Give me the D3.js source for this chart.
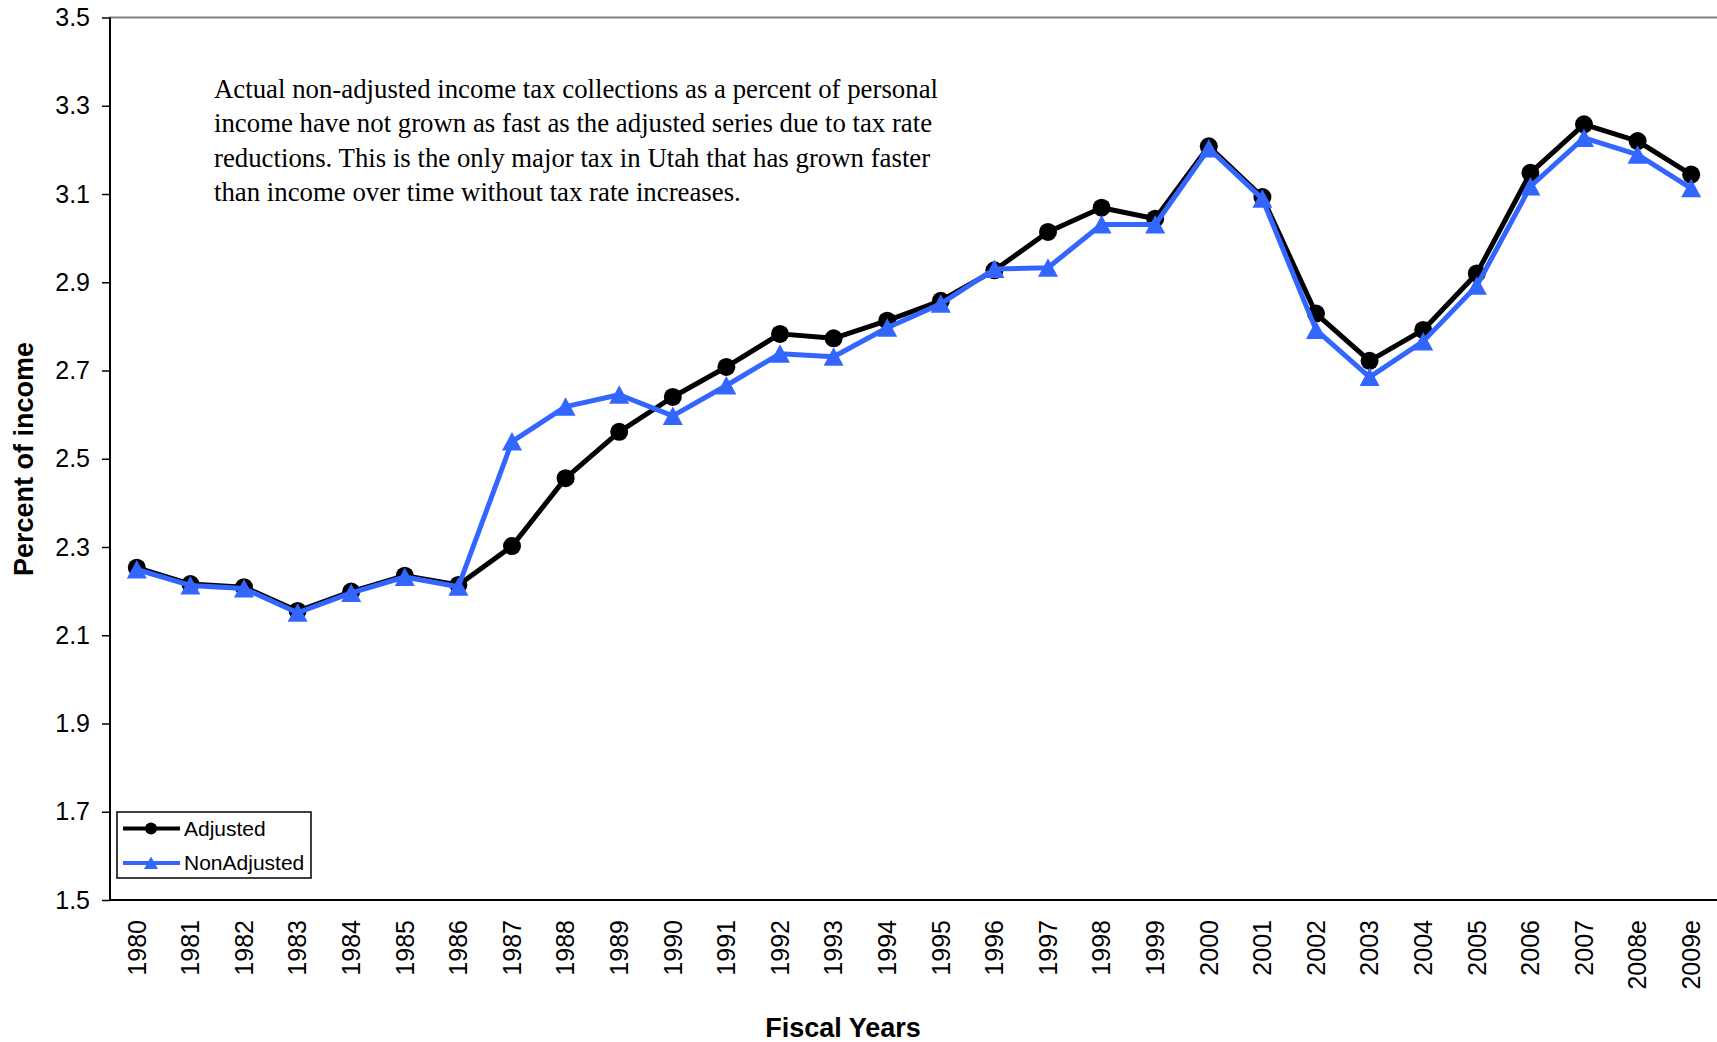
<!DOCTYPE html>
<html>
<head>
<meta charset="utf-8">
<script src="https://cdnjs.cloudflare.com/ajax/libs/d3/7.8.5/d3.min.js"></script>
<style>
body { margin: 0; background: #fff; }
svg { display: block; }
</style>
</head>
<body>
<div id="chart-area"></div>
<script>
// Income tax collections as a percent of personal income
var years = ["1980", "1981", "1982", "1983", "1984", "1985", "1986", "1987", "1988", "1989",
    "1990", "1991", "1992", "1993", "1994", "1995", "1996", "1997", "1998", "1999",
    "2000", "2001", "2002", "2003", "2004", "2005", "2006", "2007", "2008e", "2009e"];

var adjusted = [2.253, 2.216, 2.209, 2.155, 2.199, 2.235, 2.214, 2.302, 2.456, 2.561,
    2.640, 2.708, 2.783, 2.773, 2.813, 2.858, 2.927, 3.014, 3.069, 3.044,
    3.208, 3.093, 2.829, 2.722, 2.792, 2.920, 3.148, 3.258, 3.220, 3.144];

var nonAdjusted = [2.249, 2.213, 2.206, 2.151, 2.196, 2.232, 2.210, 2.539, 2.618, 2.645,
    2.597, 2.666, 2.738, 2.731, 2.797, 2.851, 2.930, 2.933, 3.031, 3.031,
    3.203, 3.089, 2.792, 2.685, 2.766, 2.892, 3.117, 3.227, 3.189, 3.113];

var yTicks = [1.5, 1.7, 1.9, 2.1, 2.3, 2.5, 2.7, 2.9, 3.1, 3.3, 3.5];

var seriesNames = ["Adjusted", "NonAdjusted"];

var noteLines = [
    "Actual non-adjusted income tax collections as a percent of personal",
    "income have not grown as fast as the adjusted series due to tax rate",
    "reductions. This is the only major tax in Utah that has grown faster",
    "than income over time without tax rate increases."
];

var W = 1717, H = 1042;
var plot = { left: 110, top: 17.5, right: 1718, bottom: 900 };
var sans = "'Liberation Sans', Arial, sans-serif";
var blue = "#3366ff";

var svg = d3.select("#chart-area")
    .append("svg")
        .attr("width", W)
        .attr("height", H);

var x = d3.scaleBand()
    .domain(years)
    .range([plot.left, plot.right]);

var y = d3.scaleLinear()
    .domain([1.5, 3.5])
    .range([plot.bottom, plot.top]);

// plot area border (grey)
svg.append("rect")
    .attr("x", plot.left)
    .attr("y", plot.top)
    .attr("width", plot.right - plot.left)
    .attr("height", plot.bottom - plot.top)
    .attr("fill", "none")
    .attr("stroke", "#808080")
    .attr("stroke-width", 2);

// Y-Axis
var yAxisCall = d3.axisLeft(y)
    .tickValues(yTicks)
    .tickFormat(d3.format(".1f"))
    .tickSize(8)
    .tickPadding(12);
var yAxis = svg.append("g")
    .attr("class", "y-axis")
    .attr("transform", "translate(" + plot.left + ",0)")
    .call(yAxisCall);
yAxis.select(".domain").remove();
yAxis.selectAll("line").attr("stroke", "#000").attr("stroke-width", 1.5);
yAxis.selectAll("text")
    .attr("fill", "#000")
    .style("font-family", sans)
    .style("font-size", "25px");

// X-Axis
var xAxisCall = d3.axisBottom(x).tickSize(0);
var xAxis = svg.append("g")
    .attr("class", "x-axis")
    .attr("transform", "translate(0," + plot.bottom + ")")
    .call(xAxisCall);
xAxis.select(".domain").remove();
xAxis.selectAll("text")
    .attr("transform", "rotate(-90)")
    .attr("text-anchor", "end")
    .attr("x", -20)
    .attr("y", 0)
    .attr("dy", "0.35em")
    .attr("fill", "#000")
    .style("font-family", sans)
    .style("font-size", "25px");

// axis lines
svg.append("line")
    .attr("x1", plot.left).attr("x2", plot.left)
    .attr("y1", plot.top).attr("y2", plot.bottom)
    .attr("stroke", "#000").attr("stroke-width", 2);
svg.append("line")
    .attr("x1", plot.left).attr("x2", plot.right)
    .attr("y1", plot.bottom).attr("y2", plot.bottom)
    .attr("stroke", "#000").attr("stroke-width", 2);

// axis titles
svg.append("text")
    .attr("transform", "translate(24,459) rotate(-90)")
    .attr("text-anchor", "middle")
    .attr("dy", "0.35em")
    .style("font-family", sans)
    .style("font-size", "27px")
    .style("font-weight", "bold")
    .text("Percent of income");

svg.append("text")
    .attr("x", 843)
    .attr("y", 1037)
    .attr("text-anchor", "middle")
    .style("font-family", sans)
    .style("font-size", "27px")
    .style("font-weight", "bold")
    .text("Fiscal Years");

// note
svg.append("g").selectAll("text")
    .data(noteLines)
    .enter()
    .append("text")
        .attr("x", 214)
        .attr("y", function(d, i){ return 98 + i * 34.3; })
        .style("font-family", "'Liberation Serif', 'Times New Roman', serif")
        .style("font-size", "26.8px")
        .text(function(d){ return d; });

var cx = function(d, i){ return x(years[i]) + x.bandwidth() / 2; };
var line = d3.line()
    .x(cx)
    .y(function(d){ return y(d); });

var tri = "M0,-9.5L10,9L-10,9Z";
var triSmall = "M0,-6.5L7,6L-7,6Z";

// Adjusted series
svg.append("path")
    .datum(adjusted)
    .attr("d", line)
    .attr("fill", "none")
    .attr("stroke", "#000")
    .attr("stroke-width", 5)
    .attr("stroke-linejoin", "round");
svg.append("g").selectAll("circle")
    .data(adjusted)
    .enter()
    .append("circle")
        .attr("cx", cx)
        .attr("cy", function(d){ return y(d); })
        .attr("r", 9)
        .attr("fill", "#000");

// NonAdjusted series
svg.append("path")
    .datum(nonAdjusted)
    .attr("d", line)
    .attr("fill", "none")
    .attr("stroke", blue)
    .attr("stroke-width", 5)
    .attr("stroke-linejoin", "round");
svg.append("g").selectAll("path")
    .data(nonAdjusted)
    .enter()
    .append("path")
        .attr("d", tri)
        .attr("transform", function(d, i){
            return "translate(" + cx(d, i) + "," + y(d) + ")";
        })
        .attr("fill", blue);

// Legend
var legend = svg.append("g").attr("class", "legend");
legend.append("rect")
    .attr("x", 117)
    .attr("y", 812)
    .attr("width", 194)
    .attr("height", 66)
    .attr("fill", "#fff")
    .attr("stroke", "#000")
    .attr("stroke-width", 1.5);

var rows = legend.selectAll(".row")
    .data(seriesNames)
    .enter()
    .append("g")
        .attr("class", "row")
        .attr("transform", function(d, i){ return "translate(0," + (828.5 + i * 34.5) + ")"; });
rows.append("line")
    .attr("x1", 123).attr("x2", 180)
    .attr("y1", 0).attr("y2", 0)
    .attr("stroke", function(d, i){ return i === 0 ? "#000" : blue; })
    .attr("stroke-width", 4);
rows.filter(function(d, i){ return i === 0; })
    .append("circle")
        .attr("cx", 151).attr("cy", 0).attr("r", 6).attr("fill", "#000");
rows.filter(function(d, i){ return i === 1; })
    .append("path")
        .attr("d", triSmall)
        .attr("transform", "translate(151,0)")
        .attr("fill", blue);
rows.append("text")
    .attr("x", 184)
    .attr("y", 0)
    .attr("dy", "0.35em")
    .style("font-family", sans)
    .style("font-size", "21px")
    .text(function(d){ return d; });
</script>
</body>
</html>
